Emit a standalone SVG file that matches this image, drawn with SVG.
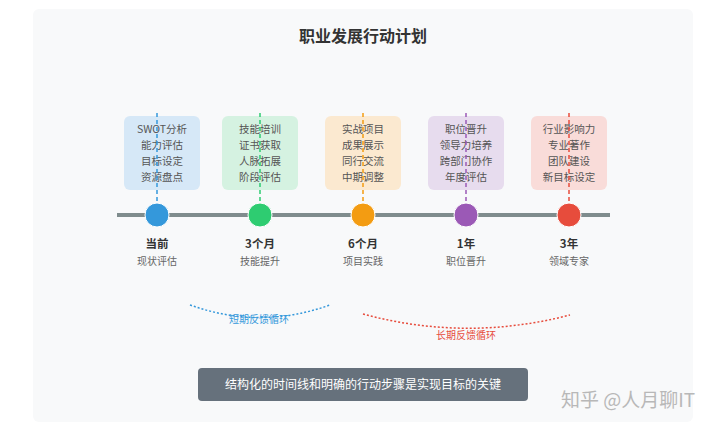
<svg xmlns="http://www.w3.org/2000/svg" width="720" height="428" viewBox="0 0 720 428">
<style>
.title{font-family:"Noto Sans CJK SC","Noto Sans",sans-serif;font-size:16px;font-weight:bold;fill:#333;text-anchor:middle}
.item{font-family:"Noto Sans CJK SC","Noto Sans",sans-serif;font-size:10.5px;fill:#555;text-anchor:middle}
.lab{font-family:"Noto Sans CJK SC","Noto Sans",sans-serif;font-size:11.5px;font-weight:bold;fill:#333;text-anchor:middle}
.sub{font-family:"Noto Sans CJK SC","Noto Sans",sans-serif;font-size:10px;fill:#666;text-anchor:middle}
.fb{font-family:"Noto Sans CJK SC","Noto Sans",sans-serif;font-size:10px;text-anchor:middle}
.box{stroke:none}
.vd{stroke-width:1.5;stroke-dasharray:4 3;fill:none}
.dot{stroke:#fff;stroke-width:1}
</style>
<rect x="0" y="0" width="720" height="428" fill="#ffffff"/>
<rect x="33" y="9" width="660" height="413" rx="6" fill="#f8f9fa"/>
<text class="title" x="363" y="42">职业发展行动计划</text>

<g id="timeline">
<line x1="117" y1="215" x2="610" y2="215" stroke="#7f8c8d" stroke-width="4"/>
</g>

<g id="node-current">
<rect class="box" x="124" y="116" width="76" height="74" rx="6" fill="#d6e8f7"/>
<text class="item" x="162" y="133">SWOT分析</text>
<text class="item" x="162" y="149">能力评估</text>
<text class="item" x="162" y="165">目标设定</text>
<text class="item" x="162" y="181">资源盘点</text>
<line class="vd" x1="157" y1="113" x2="157" y2="205" stroke="#3498db"/>
<circle class="dot" cx="157" cy="215" r="12" fill="#3498db"/>
<text class="lab" x="157" y="248">当前</text>
<text class="sub" x="157" y="265">现状评估</text>
</g>

<g id="node-3m">
<rect class="box" x="222" y="116" width="76" height="74" rx="6" fill="#d5f2e1"/>
<text class="item" x="260" y="133">技能培训</text>
<text class="item" x="260" y="149">证书获取</text>
<text class="item" x="260" y="165">人脉拓展</text>
<text class="item" x="260" y="181">阶段评估</text>
<line class="vd" x1="260" y1="113" x2="260" y2="205" stroke="#2ecc71"/>
<circle class="dot" cx="260" cy="215" r="12" fill="#2ecc71"/>
<text class="lab" x="260" y="248">3个月</text>
<text class="sub" x="260" y="265">技能提升</text>
</g>

<g id="node-6m">
<rect class="box" x="325" y="116" width="76" height="74" rx="6" fill="#fbe9d0"/>
<text class="item" x="363" y="133">实战项目</text>
<text class="item" x="363" y="149">成果展示</text>
<text class="item" x="363" y="165">同行交流</text>
<text class="item" x="363" y="181">中期调整</text>
<line class="vd" x1="363" y1="113" x2="363" y2="205" stroke="#f39c12"/>
<circle class="dot" cx="363" cy="215" r="12" fill="#f39c12"/>
<text class="lab" x="363" y="248">6个月</text>
<text class="sub" x="363" y="265">项目实践</text>
</g>

<g id="node-1y">
<rect class="box" x="428" y="116" width="76" height="74" rx="6" fill="#e7dcee"/>
<text class="item" x="466" y="133">职位晋升</text>
<text class="item" x="466" y="149">领导力培养</text>
<text class="item" x="466" y="165">跨部门协作</text>
<text class="item" x="466" y="181">年度评估</text>
<line class="vd" x1="466" y1="113" x2="466" y2="205" stroke="#9b59b6"/>
<circle class="dot" cx="466" cy="215" r="12" fill="#9b59b6"/>
<text class="lab" x="466" y="248">1年</text>
<text class="sub" x="466" y="265">职位晋升</text>
</g>

<g id="node-3y">
<rect class="box" x="531" y="116" width="76" height="74" rx="6" fill="#f9dcd9"/>
<text class="item" x="569" y="133">行业影响力</text>
<text class="item" x="569" y="149">专业著作</text>
<text class="item" x="569" y="165">团队建设</text>
<text class="item" x="569" y="181">新目标设定</text>
<line class="vd" x1="569" y1="113" x2="569" y2="205" stroke="#e74c3c"/>
<circle class="dot" cx="569" cy="215" r="12" fill="#e74c3c"/>
<text class="lab" x="569" y="248">3年</text>
<text class="sub" x="569" y="265">领域专家</text>
</g>

<g id="connectors">
<path d="M190 305 Q260 330 330 305" fill="none" stroke="#3498db" stroke-width="1.5" stroke-dasharray="2 2"/>
<path d="M363 314 Q466 342 570 315" fill="none" stroke="#e74c3c" stroke-width="1.5" stroke-dasharray="2 2"/>
</g>
<text class="fb" x="259" y="323" fill="#3498db">短期反馈循环</text>
<text class="fb" x="466" y="339" fill="#e74c3c">长期反馈循环</text>

<g id="summary">
<rect x="198" y="368" width="330" height="33" rx="4" fill="#66717c"/>
<text x="363" y="389" font-family="Noto Sans CJK SC, sans-serif" font-size="12px" fill="#ffffff" text-anchor="middle">结构化的时间线和明确的行动步骤是实现目标的关键</text>
</g>

<text x="628" y="407" font-family="Noto Sans CJK SC, sans-serif" font-size="19px" fill="#b8b8b8" text-anchor="middle">知乎 @人月聊IT</text>
</svg>
